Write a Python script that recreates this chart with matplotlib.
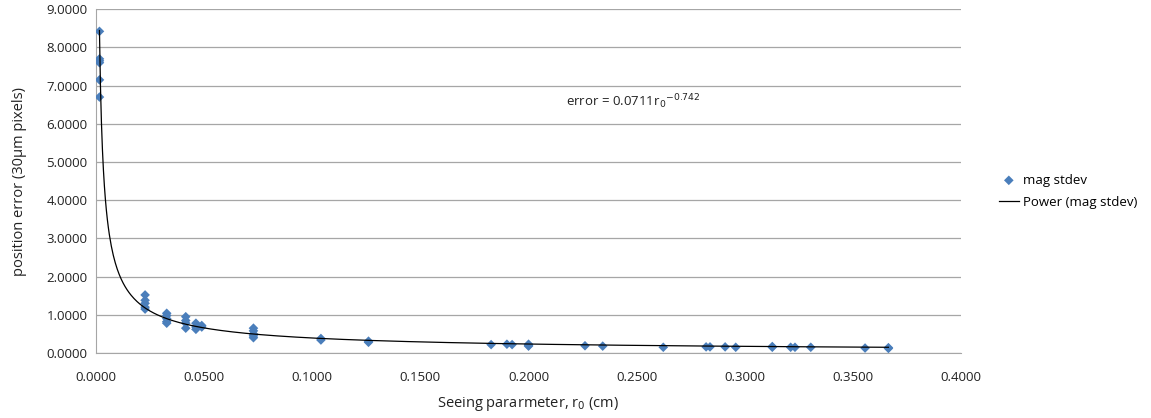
import numpy as np
import matplotlib.pyplot as plt
from matplotlib.ticker import FormatStrFormatter

plt.rcParams['font.family'] = ['Open Sans', 'DejaVu Sans']

# r0 (cm) and position error (30um pixels)
r0 = [0.0016, 0.0016, 0.0016, 0.0016, 0.0016, 0.0016,
      0.0227, 0.0227, 0.0227, 0.0227, 0.0227,
      0.0327, 0.0327, 0.0327, 0.0327, 0.0327,
      0.0415, 0.0415, 0.0415, 0.0415,
      0.0462, 0.0462, 0.0462, 0.0489, 0.0489,
      0.0728, 0.0728, 0.0728, 0.0728, 0.0728,
      0.1040, 0.1040, 0.1260, 0.1260,
      0.1827, 0.1900, 0.1924, 0.2000, 0.2000, 0.2000,
      0.2261, 0.2343, 0.2623, 0.2821, 0.2839, 0.2909, 0.2958,
      0.3127, 0.3127, 0.3212, 0.3232, 0.3305, 0.3556, 0.3664, 0.3664]
err = [8.42, 7.70, 7.65, 7.60, 7.15, 6.70,
       1.52, 1.38, 1.30, 1.20, 1.15,
       1.04, 0.98, 0.90, 0.82, 0.78,
       0.95, 0.85, 0.78, 0.65,
       0.78, 0.68, 0.62, 0.72, 0.68,
       0.65, 0.58, 0.50, 0.45, 0.40,
       0.38, 0.34, 0.31, 0.28,
       0.22, 0.23, 0.22, 0.23, 0.20, 0.18,
       0.19, 0.18, 0.15, 0.16, 0.16, 0.16, 0.15,
       0.17, 0.15, 0.15, 0.15, 0.15, 0.13, 0.14, 0.12]

coef, expo = 0.0711, -0.742

fig = plt.figure(figsize=(11.51, 4.18), dpi=100)
ax = fig.add_axes([0.0834, 0.1555, 0.7516, 0.8225])

ax.scatter(r0, err, marker='D', s=24, color='#4a7ebb', edgecolors='none',
           zorder=3, label='mag stdev')
xs = np.linspace(min(r0), max(r0), 800)
ax.plot(xs, coef * xs ** expo, color='black', lw=0.9, zorder=4,
        label='Power (mag stdev)')

ax.set_xlim(0, 0.4)
ax.set_ylim(0, 9)
ax.set_xticks(np.arange(0, 0.41, 0.05))
ax.set_yticks(np.arange(0, 9.1, 1))
ax.xaxis.set_major_formatter(FormatStrFormatter('%.4f'))
ax.yaxis.set_major_formatter(FormatStrFormatter('%.4f'))
ax.grid(axis='y', color='#a6a6a6', lw=0.9)
ax.set_axisbelow(True)
for s in ['top', 'right']:
    ax.spines[s].set_visible(False)
for s in ['left', 'bottom']:
    ax.spines[s].set_color('#a6a6a6')
ax.tick_params(length=0, labelsize=9.5, colors='#222222')
ax.tick_params(axis='x', pad=13)
ax.tick_params(axis='y', pad=6)

ax.set_xlabel('Seeing pararmeter, r$_0$ (cm)', fontsize=10.5, color='#222222',
              labelpad=8)
ax.set_ylabel('position error (30µm pixels)', fontsize=10.5, color='#222222',
              labelpad=14)

ax.text(0.2175, 6.45, 'error = 0.0711r$_0$$^{-0.742}$', fontsize=9.5,
        color='#222222')

ax.legend(loc='center left', bbox_to_anchor=(1.03, 0.47), frameon=False,
          fontsize=9.5, handlelength=1.5, handletextpad=0.3, labelspacing=0.7)

fig.savefig('out.png', dpi=100)
